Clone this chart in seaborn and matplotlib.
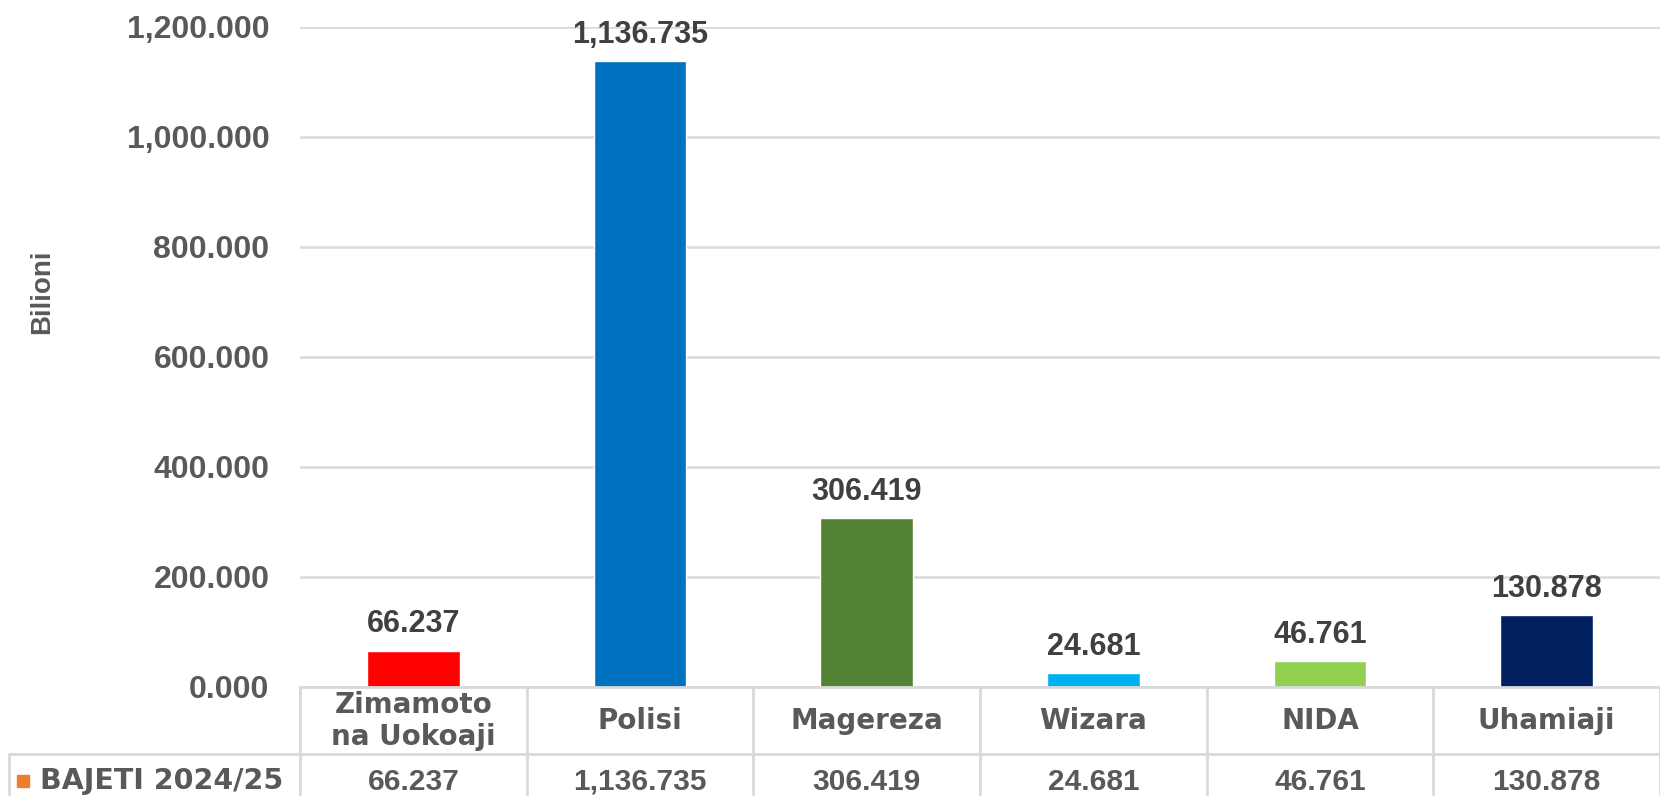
import matplotlib
matplotlib.use('Agg')
import matplotlib.pyplot as plt
import matplotlib.transforms as mtransforms
from matplotlib.lines import Line2D
from matplotlib.patches import Rectangle
import pandas as pd
import seaborn as sns

categories = ['Zimamoto\nna Uokoaji', 'Polisi', 'Magereza', 'Wizara', 'NIDA', 'Uhamiaji']
values     = [66.237, 1136.735, 306.419, 24.681, 46.761, 130.878]
bar_colors = ['#FF0000', '#0070C0', '#548235', '#00B0F0', '#92D050', '#002060']
series     = 'BAJETI 2024/25'
y_ticks    = [0, 200, 400, 600, 800, 1000, 1200]

sns.set_theme(style='white')
plt.rcParams['font.family'] = ['DejaVu Sans']

GRAY  = '#595959'
LINE  = '#D9D9D9'
NUM   = ['Liberation Sans', 'DejaVu Sans']   # numbers look Arial-like
W, H  = 1660, 796

df = pd.DataFrame({'cat': categories, 'val': values})

fig = plt.figure(figsize=(W / 100, H / 100), dpi=100)
ax  = fig.add_axes([300 / W, 1 - 687 / H, 1360 / W, (687 - 26.5) / H])

sns.barplot(data=df, x='cat', y='val', hue='cat', palette=bar_colors,
            order=categories, width=0.41, legend=False, saturation=1, ax=ax)

ax.set_ylim(0, 1200)
ax.set_xlim(-0.5, len(categories) - 0.5)
ax.set_yticks(y_ticks)
ax.set_yticklabels([f'{v:,.3f}' for v in y_ticks], fontsize=23, family=NUM,
                   fontweight='bold', color=GRAY)
ax.tick_params(axis='y', length=0, pad=22)
ax.set_xticks([])
ax.set_xlabel('')
ax.set_ylabel('Bilioni', fontsize=20, family=NUM, fontweight='bold', color=GRAY,
              labelpad=0)
ax.yaxis.set_label_coords(-245 / 1360, 0.598)
ax.grid(axis='y', color=LINE, linewidth=1.8)
ax.set_axisbelow(True)
for s in ax.spines.values():
    s.set_visible(False)

# data labels
for i, v in enumerate(values):
    ax.annotate(f'{v:,.3f}', (i, v), xytext=(0, 8), textcoords='offset points',
                ha='center', va='bottom', fontsize=22, family=NUM,
                fontweight='bold', color='#404040')

# data table below the axis
tr = mtransforms.blended_transform_factory(ax.transData, fig.transFigure)
y_top, y_mid, y_bot = 1 - 687 / H, 1 - 754 / H, 0.0
lw = 2.0
fig.add_artist(Line2D([300 / W, 1], [y_top, y_top], color=LINE, lw=lw))
fig.add_artist(Line2D([8.5 / W, 1], [y_mid, y_mid], color=LINE, lw=lw))
fig.add_artist(Line2D([300 / W, 300 / W], [y_top, y_bot], color=LINE, lw=lw))
fig.add_artist(Line2D([8.5 / W, 8.5 / W], [y_mid, y_bot], color=LINE, lw=lw))
for i in range(len(categories)):
    x = i + 0.5
    ax.add_artist(Line2D([x, x], [y_top, y_bot], color=LINE, lw=lw,
                         transform=tr, clip_on=False))
    ax.text(i, 1 - 721 / H, categories[i], transform=tr, ha='center', va='center',
            fontsize=20, fontweight='bold', color=GRAY, linespacing=1.2)
    ax.text(i, 1 - 782 / H, f'{values[i]:,.3f}', transform=tr, ha='center',
            va='center', fontsize=21.5, family=NUM, fontweight='bold', color=GRAY)

fig.add_artist(Rectangle((17 / W, 1 - 787 / H), 12 / W, 12 / H,
                         transform=fig.transFigure, color='#ED7D31'))
fig.text(40 / W, 1 - 781 / H, series, ha='left', va='center', fontsize=20.5,
         fontweight='bold', color=GRAY)

fig.savefig('out.png', dpi=100)
